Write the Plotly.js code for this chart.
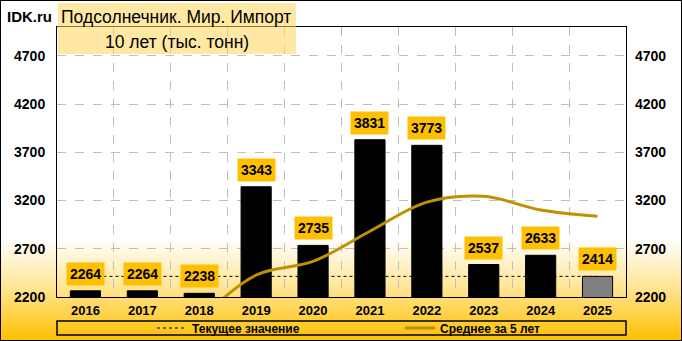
<!DOCTYPE html>
<html>
<head>
<meta charset="utf-8">
<script src="https://cdn.plot.ly/plotly-3.0.1.min.js"></script>
<style>
  html, body { margin: 0; padding: 0; background: #fff; }
  #wrap {
    position: absolute; left: 0; top: 0;
    width: 682px; height: 341px; box-sizing: border-box;
    border: 1px solid #000;
    background: linear-gradient(to bottom, #ffffff 0%, #ffffff 70%, #ffe699 84%, #ffc000 100%);
  }
  #chart { width: 680px; height: 339px; }
</style>
</head>
<body>
<div id="wrap"><div id="chart"></div></div>
<script>
// ---- data ----
const years = ['2016', '2017', '2018', '2019', '2020', '2021', '2022', '2023', '2024', '2025'];
const imports = [2264, 2264, 2238, 3343, 2735, 3831, 3773, 2537, 2633, 2414];
const avgYears = ['2018', '2019', '2020', '2021', '2022', '2023', '2024', '2025'];
const avg5 = [1960, 2428, 2569, 2882, 3184, 3244, 3102, 3038];
const currentValue = 2414;
const yTicks = [2200, 2700, 3200, 3700, 4200, 4700];
const titleLine1 = 'Подсолнечник. Мир. Импорт';
const titleLine2 = '10 лет (тыс. тонн)';
const legendCurrent = 'Текущее значение';
const legendAvg = 'Среднее за 5 лет';

// ---- geometry helpers (layout only) ----
const W = 680, H = 339;
const M = { l: 56, r: 55, t: 26, b: 43, autoexpand: false };
const PW = W - M.l - M.r, PH = H - M.t - M.b;
const px = x => (x - 1 - M.l) / PW;          // page x -> paper x
const py = y => 1 - (y - 1 - M.t) / PH;      // page y -> paper y

const FONT = 'Liberation Sans, Arial, sans-serif';
const barColors = imports.map((v, i) => i === imports.length - 1 ? '#7f7f7f' : '#000000');

const traces = [
  {
    type: 'scatter', mode: 'lines', name: legendCurrent,
    x: years, y: years.map(() => currentValue),
    xaxis: 'x', yaxis: 'y',
    line: { color: '#000', width: 1, dash: '3px,3px' },
    hoverinfo: 'skip'
  },
  {
    type: 'bar', name: 'bars', showlegend: false,
    x: years, y: imports, xaxis: 'x', yaxis: 'y2',
    width: 0.53,
    marker: { color: barColors, line: { color: '#000', width: 1 } }
  },
  {
    type: 'scatter', mode: 'lines', name: legendAvg,
    x: avgYears, y: avg5, xaxis: 'x', yaxis: 'y2',
    line: { color: '#bf9000', width: 3, shape: 'spline', smoothing: 1 }
  }
];

// bar value labels: x given as category index on the category axis
const annotations = imports.map((v, i) => ({
  x: i, y: v, xref: 'x', yref: 'y2',
  text: String(v), showarrow: false,
  yanchor: 'bottom', yshift: 5,
  bgcolor: '#ffc000', borderpad: 3,
  font: { family: FONT, size: 14, color: '#000', weight: 'bold' }
}));

annotations.push(
  { xref: 'paper', yref: 'paper', x: px(5), y: py(16), xanchor: 'left', yanchor: 'middle',
    text: 'IDK.ru', showarrow: false, font: { family: FONT, size: 15, color: '#000', weight: 'bold' } },
  { xref: 'paper', yref: 'paper', x: px(176), y: py(17), xanchor: 'center', yanchor: 'middle',
    text: titleLine1, showarrow: false, font: { family: FONT, size: 17.5, color: '#000' } },
  { xref: 'paper', yref: 'paper', x: px(177), y: py(42), xanchor: 'center', yanchor: 'middle',
    text: titleLine2, showarrow: false, font: { family: FONT, size: 17.5, color: '#000' } }
);

const shapes = [
  { type: 'rect', xref: 'paper', yref: 'paper', layer: 'above',
    x0: px(58), x1: px(296), y0: py(3), y1: py(54),
    fillcolor: 'rgba(255,214,90,0.55)', line: { width: 0 } },
  { type: 'rect', xref: 'paper', yref: 'paper', layer: 'above',
    x0: 0, x1: 1, y0: py(321), y1: py(335),
    fillcolor: 'rgba(0,0,0,0)', line: { color: '#000', width: 1.5 } }
];

const yBase = {
  range: [2200, 5000], tickvals: yTicks,
  tickfont: { family: FONT, size: 14, color: '#000', weight: 'bold' },
  ticks: '', zeroline: false, fixedrange: true, ticklabelstandoff: 8
};

const layout = {
  width: W, height: H,
  margin: M,
  paper_bgcolor: 'rgba(0,0,0,0)', plot_bgcolor: 'rgba(0,0,0,0)',
  showlegend: true,
  xaxis: {
    type: 'category', categoryorder: 'array', categoryarray: years,
    range: [-0.5, years.length - 0.5], autorange: false,
    tickson: 'boundaries', ticks: '',
    showgrid: true, gridcolor: '#bfbfbf', griddash: 'dash', gridwidth: 1,
    showline: true, linecolor: '#000', linewidth: 1, mirror: true,
    tickfont: { family: FONT, size: 13, color: '#000', weight: 'bold' },
    ticklabelstandoff: 1
  },
  yaxis: Object.assign({}, yBase, {
    side: 'left', showgrid: true, gridcolor: '#bfbfbf', griddash: 'dash', gridwidth: 1,
    showline: true, linecolor: '#000', linewidth: 1, mirror: true
  }),
  yaxis2: Object.assign({}, yBase, {
    side: 'right', overlaying: 'y', showgrid: false, showline: false
  }),
  legend: {
    orientation: 'h', x: px(152), xanchor: 'left', y: py(328), yanchor: 'middle',
    bgcolor: 'rgba(0,0,0,0)', borderwidth: 0,
    font: { family: FONT, size: 12, color: '#000', weight: 'bold' },
    entrywidth: 203, entrywidthmode: 'pixels', traceorder: 'normal'
  },
  annotations: annotations,
  shapes: shapes
};

Plotly.newPlot('chart', traces, layout, { staticPlot: true, displayModeBar: false });
</script>
</body>
</html>
